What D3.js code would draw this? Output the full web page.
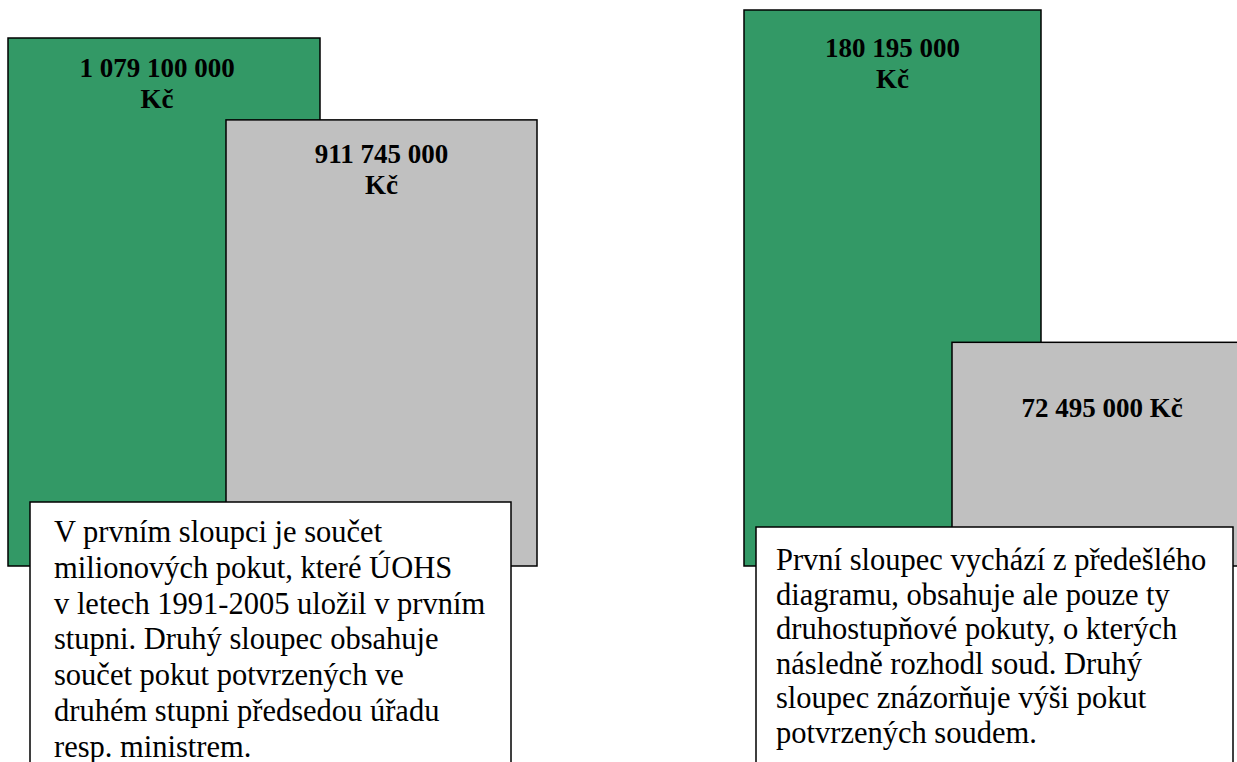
<!DOCTYPE html>
<html>
<head>
<meta charset="utf-8">
<script src="https://cdn.jsdelivr.net/npm/d3@7"></script>
<style>
  body { margin: 0; background: #fff; }
  svg { display: block; }
</style>
</head>
<body>
<svg id="chart" width="1237" height="762"></svg>
<script>
// values (Kč)
var leftValues = [1079100000, 911745000];
var rightValues = [180195000, 72495000];
var leftLabels = [["1 079 100 000", "Kč"], ["911 745 000", "Kč"]];
var rightLabels = [["180 195 000", "Kč"], ["72 495 000 Kč"]];
var barColors = ["#339966", "#c0c0c0"];

var leftNote = [
  "V prvním sloupci je součet",
  "milionových pokut, které ÚOHS",
  "v letech 1991-2005 uložil v prvním",
  "stupni. Druhý sloupec obsahuje",
  "součet pokut potvrzených ve",
  "druhém stupni předsedou úřadu",
  "resp. ministrem."
];
var rightNote = [
  "První sloupec vychází z předešlého",
  "diagramu, obsahuje ale pouze ty",
  "druhostupňové pokuty, o kterých",
  "následně rozhodl soud. Druhý",
  "sloupec znázorňuje výši pokut",
  "potvrzených soudem."
];

var svg = d3.select('#chart');
var baseY = 566;
var serif = 'Liberation Serif, Times New Roman, serif';

var panels = [
  {values: leftValues, labels: leftLabels, top: 38, xs: [8, 226], ws: [312, 311],
   labelDy: [39, 43], labelDx: [-7, 0],
   note: leftNote, box: {x: 30, y: 502, w: 481, h: 280}, fs: 30.5, lh: 35.8, pad: 24, ty: 40},
  {values: rightValues, labels: rightLabels, top: 10, xs: [744, 952], ws: [297, 300],
   labelDy: [47, 75], labelDx: [0, 0],
   note: rightNote, box: {x: 756, y: 527, w: 477, h: 260}, fs: 30.5, lh: 34.6, pad: 20, ty: 43}
];

panels.forEach(function(p) {
  var y = d3.scaleLinear()
    .domain([0, d3.max(p.values)])
    .range([baseY, p.top]);

  var g = svg.append('g');

  g.selectAll('rect.bar')
    .data(p.values)
    .enter()
    .append('rect')
    .attr('class', 'bar')
    .attr('x', function(d, i) { return p.xs[i]; })
    .attr('y', function(d) { return y(d); })
    .attr('width', function(d, i) { return p.ws[i]; })
    .attr('height', function(d) { return baseY - y(d); })
    .attr('fill', function(d, i) { return barColors[i]; })
    .attr('stroke', '#000')
    .attr('stroke-width', 1.5);

  g.selectAll('text.val')
    .data(p.values)
    .enter()
    .append('text')
    .attr('class', 'val')
    .attr('font-family', serif)
    .attr('font-weight', 'bold')
    .attr('font-size', 27)
    .attr('text-anchor', 'middle')
    .each(function(d, i) {
      var t = d3.select(this);
      var cx = p.xs[i] + p.ws[i] / 2 + p.labelDx[i];
      p.labels[i].forEach(function(line, k) {
        t.append('tspan')
          .attr('x', cx)
          .attr('y', y(d) + p.labelDy[i] + k * 31)
          .text(line);
      });
    });

  // note box
  g.append('rect')
    .attr('x', p.box.x)
    .attr('y', p.box.y)
    .attr('width', p.box.w)
    .attr('height', p.box.h)
    .attr('fill', '#fff')
    .attr('stroke', '#000')
    .attr('stroke-width', 1.5);

  g.append('text')
    .attr('font-family', serif)
    .attr('font-size', p.fs)
    .attr('fill', '#000')
    .selectAll('tspan')
    .data(p.note)
    .enter()
    .append('tspan')
    .attr('x', p.box.x + p.pad)
    .attr('y', function(d, i) { return p.box.y + p.ty + i * p.lh; })
    .text(function(d) { return d; });
});
</script>
</body>
</html>
